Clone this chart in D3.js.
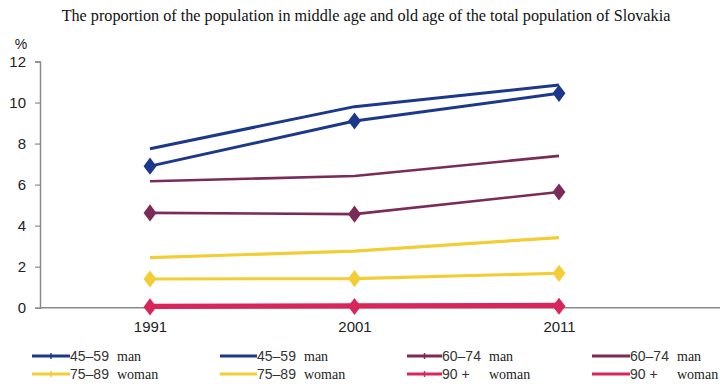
<!DOCTYPE html>
<html>
<head>
<meta charset="utf-8">
<script src="https://cdn.jsdelivr.net/npm/d3@7/dist/d3.min.js"></script>
<style>
  html, body { margin: 0; padding: 0; background: #fff; }
  svg { display: block; }
</style>
</head>
<body>
<script>
// Census years and share of each age group in the total population (%)
const years = ["1991", "2001", "2011"];
const yTicks = [0, 2, 4, 6, 8, 10, 12];

const seriesNames = [
  "45–59 man", "45–59 man",
  "60–74 man", "60–74 man",
  "75–89 woman", "75–89 woman",
  "90 + woman", "90 + woman"
];
const seriesAges = ["45–59", "45–59", "60–74", "60–74", "75–89", "75–89", "90 +", "90 +"];
const seriesSex = ["man", "man", "man", "man", "woman", "woman", "woman", "woman"];
const seriesColors = ["#1c388a", "#1c388a", "#7a2b57", "#7a2b57", "#f2cd35", "#f2cd35", "#d8265c", "#d8265c"];
const seriesMarkers = [true, false, true, false, true, false, true, false];

const values45m1 = [6.9, 9.1, 10.45];
const values45m2 = [7.75, 9.8, 10.85];
const values60m1 = [4.62, 4.56, 5.64];
const values60m2 = [6.16, 6.42, 7.4];
const values75w1 = [1.4, 1.42, 1.68];
const values75w2 = [2.44, 2.76, 3.42];
const values90w1 = [0.04, 0.06, 0.07];
const values90w2 = [0.1, 0.12, 0.14];

const seriesValues = [values45m1, values45m2, values60m1, values60m2,
                      values75w1, values75w2, values90w1, values90w2];

const W = 720, H = 384;
const svg = d3.select("body").append("svg").attr("width", W).attr("height", H);

const axisColor = "#8a8a8a";
const sans = "'Liberation Sans', Arial, sans-serif";
const serif = "'Liberation Serif', 'Times New Roman', serif";

const x = d3.scalePoint().domain(years).range([150, 559]);
const y = d3.scaleLinear().domain([0, 12]).range([307.7, 61.5]);

// Title
svg.append("text")
  .attr("x", 366).attr("y", 21)
  .attr("text-anchor", "middle")
  .attr("font-family", serif).attr("font-size", 16.2)
  .attr("fill", "#111")
  .text("The proportion of the population in middle age and old age of the total population of Slovakia");

// Y axis
const yAxis = d3.axisLeft(y).tickValues(yTicks).tickSize(5).tickPadding(9);
const gy = svg.append("g").attr("transform", "translate(40,0)").call(yAxis);
gy.select(".domain").attr("stroke", axisColor).attr("stroke-width", 1.5);
gy.selectAll(".tick line").attr("stroke", axisColor).attr("stroke-width", 1.2);
gy.selectAll(".tick text").attr("font-family", sans).attr("font-size", 15).attr("fill", "#222");

svg.append("text").attr("x", 21).attr("y", 49)
  .attr("text-anchor", "middle")
  .attr("font-family", sans).attr("font-size", 14).attr("fill", "#222")
  .text("%");

// X axis (baseline runs across the full plot width)
const xAxis = d3.axisBottom(x).tickSize(0).tickPadding(14);
const gx = svg.append("g").attr("transform", `translate(0,${y(0)})`).call(xAxis);
gx.select(".domain").remove();
gx.selectAll(".tick text").attr("font-family", sans).attr("font-size", 15).attr("fill", "#222");
svg.append("line")
  .attr("x1", 40).attr("x2", 720)
  .attr("y1", y(0)).attr("y2", y(0))
  .attr("stroke", axisColor).attr("stroke-width", 1.5);

// Lines
const line = d3.line().x((d, i) => x(years[i])).y(d => y(d));
const widths = [3, 3, 2.6, 2.6, 3.2, 3.2, 4, 4];

seriesValues.forEach((vals, s) => {
  svg.append("path")
    .datum(vals)
    .attr("d", line)
    .attr("fill", "none")
    .attr("stroke", seriesColors[s])
    .attr("stroke-width", widths[s])
    .attr("stroke-linejoin", "round");
});

// Diamond markers
const diamond = d3.symbol().type(d3.symbolDiamond).size(85);
seriesValues.forEach((vals, s) => {
  if (!seriesMarkers[s]) return;
  svg.append("g").selectAll("path")
    .data(vals)
    .join("path")
    .attr("d", diamond)
    .attr("transform", (d, i) => `translate(${x(years[i])},${y(d)}) scale(1.3,1)`)
    .attr("fill", seriesColors[s]);
});

// Legend: four columns, two rows
const legendCols = [32, 220, 407, 592];
const legendRows = [356, 374];
const legendOrder = [[0, 4], [1, 5], [2, 6], [3, 7]];
const lineLen = [38, 37, 35, 38];
legendOrder.forEach((col, c) => {
  col.forEach((s, r) => {
    const g = svg.append("g").attr("transform", `translate(${legendCols[c]},${legendRows[r]})`);
    g.append("line").attr("x1", 0).attr("x2", lineLen[c]).attr("y1", 0).attr("y2", 0)
      .attr("stroke", seriesColors[s]).attr("stroke-width", 3.2);
    if (seriesMarkers[s]) {
      g.append("line").attr("x1", lineLen[c] / 2).attr("x2", lineLen[c] / 2)
        .attr("y1", -3).attr("y2", 3)
        .attr("stroke", seriesColors[s]).attr("stroke-width", 1.5);
    }
    g.append("text").attr("x", lineLen[c]).attr("y", 5)
      .attr("font-family", sans).attr("font-size", 14).attr("fill", "#333")
      .text(seriesAges[s]);
    g.append("text").attr("x", lineLen[c] + 47).attr("y", 5)
      .attr("font-family", serif).attr("font-size", 14).attr("fill", "#222")
      .text(seriesSex[s]);
  });
});
</script>
</body>
</html>
